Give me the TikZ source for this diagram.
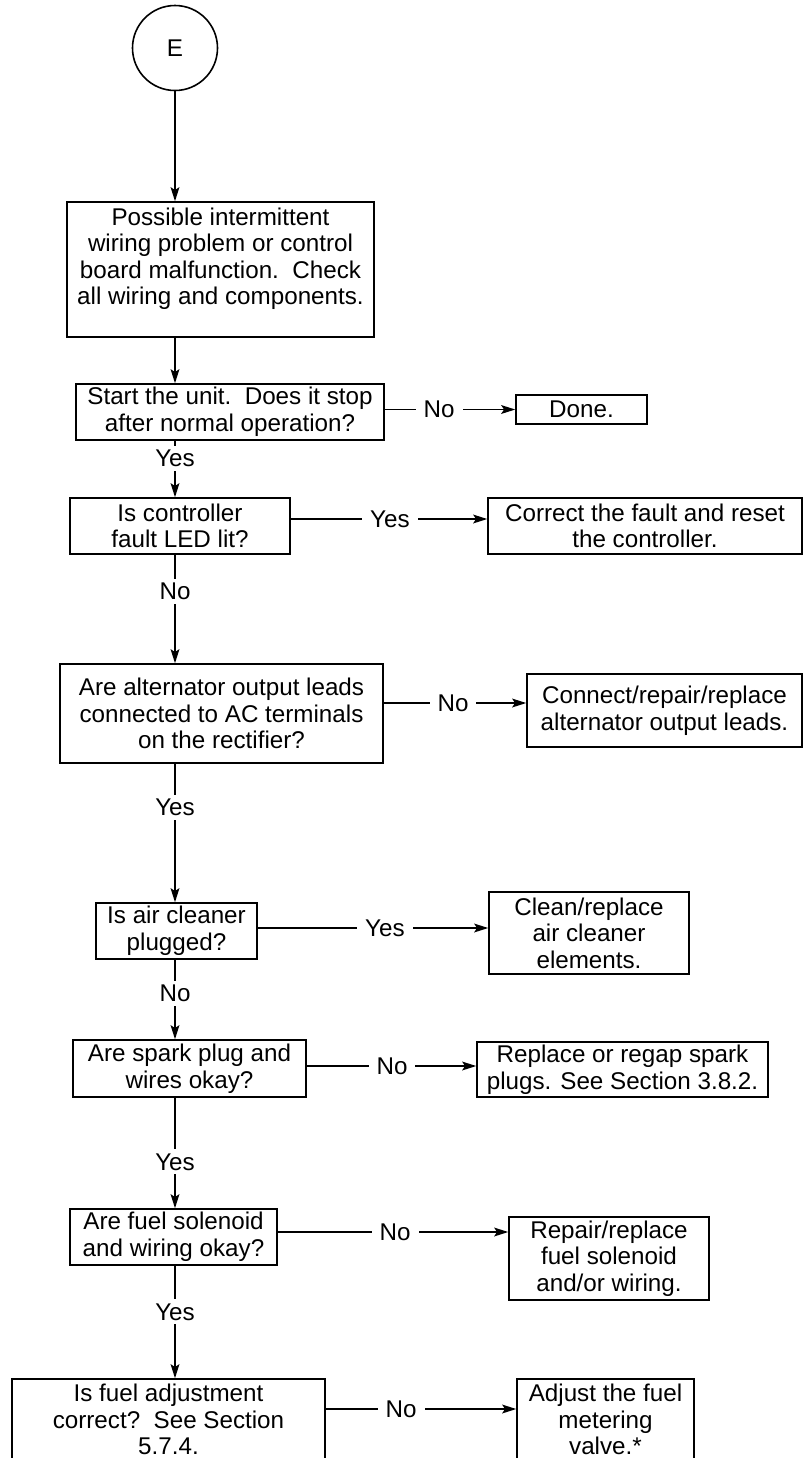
\documentclass[tikz,border=0pt]{standalone}
\usepackage{fontspec}
\setmainfont{Liberation Sans}
\usetikzlibrary{arrows.meta}
\newcommand\boxnode[6]{\node[box, minimum width={(#3-#2)*0.5pt}, minimum height={(#5-#4)*0.5pt}] (#1) at ({(#2+#3)/2},{(#4+#5)/2}) {#6};}
\tikzset{
  every node/.style={font=\fontsize{12.1}{13.3}\selectfont},
  box/.style={draw, rectangle, align=center, inner sep=0pt, line width=0.8pt},
  startc/.style={draw, circle, minimum size=42.5pt, inner sep=0pt, line width=0.8pt},
  arr/.style={line width=0.7pt, -{Stealth[length=7pt,width=4.4pt,inset=1.4pt]}},
  lbl/.style={fill=white, inner xsep=4pt, inner ysep=2pt}
}
\begin{document}
\begin{tikzpicture}[x=0.5pt,y=-0.5pt]
\useasboundingbox (0,0) rectangle (803,1458);
\clip (0,0) rectangle (803,1458);
\fill[white] (0,0) rectangle (803,1458);

\node[startc] (e) at (175,48) {E};
\boxnode{b1}{67}{374}{202}{337}{Possible intermittent\\wiring problem or control\\board malfunction.\ \ Check\\all wiring and components.\\ \mbox{}}
\boxnode{b2}{76}{384}{384}{440}{Start the unit.\ \ Does it stop\\after normal operation?}
\boxnode{done}{516}{647}{395}{424}{Done.}
\boxnode{b3}{70}{290}{498}{554}{Is controller\\fault LED lit?}
\boxnode{correct}{488}{802}{498}{554}{Correct the fault and reset\\the controller.}
\boxnode{b4}{60}{383}{664}{763}{Are alternator output leads\\connected to AC terminals\\on the rectifier?}
\boxnode{connect}{527}{802}{674}{747}{Connect/repair/replace\\alternator output leads.}
\boxnode{b5}{96}{257}{903}{959}{Is air cleaner\\plugged?}
\boxnode{clean}{489}{689}{892}{974}{Clean/replace\\air cleaner\\elements.}
\boxnode{spark}{73}{306}{1040}{1097}{Are spark plug and\\wires okay?}
\boxnode{replace}{477}{768}{1042}{1097}{Replace or regap spark\\plugs. See Section 3.8.2.}
\boxnode{fuelsol}{70}{277}{1209}{1265}{Are fuel solenoid\\and wiring okay?}
\boxnode{repair}{509}{709}{1217}{1300}{Repair/replace\\fuel solenoid\\and/or wiring.}
\boxnode{fueladj}{12}{325}{1379}{1460}{Is fuel adjustment\\correct?\ \ See Section\\5.7.4.}
\boxnode{adjust}{517}{694}{1379}{1460}{Adjust the fuel\\metering\\valve.*}

% main spine
\draw[arr] (e.south) -- (e.south |- b1.north);
\draw[arr] (b1.south -| e) -- (b2.north -| e);
\draw[arr] (b2.south -| e) -- (b3.north -| e) node[lbl,pos=0.31] {Yes};
\draw[arr] (b3.south -| e) -- (b4.north -| e) node[lbl,pos=0.336] {No};
\draw[arr] (b4.south -| e) -- (b5.north -| e) node[lbl,pos=0.314] {Yes};
\draw[arr] (b5.south -| e) -- (spark.north -| e) node[lbl,pos=0.42] {No};
\draw[arr] (spark.south -| e) -- (fuelsol.north -| e) node[lbl,pos=0.58] {Yes};
\draw[arr] (fuelsol.south -| e) -- (fueladj.north -| e) node[lbl,pos=0.41] {Yes};

% side branches
\draw[arr] (b2.east |- done.west) -- (done.west) node[lbl,pos=0.417] {No};
\draw[arr] ([yshift=3.5pt]b3.east) -- ([yshift=3.5pt]b3.east -| correct.west) node[lbl,pos=0.505] {Yes};
\draw[arr] ([yshift=5.25pt]b4.east) -- ([yshift=5.25pt]b4.east -| connect.west) node[lbl,pos=0.486] {No};
\draw[arr] ([yshift=1.5pt]b5.east) -- ([yshift=1.5pt]b5.east -| clean.west) node[lbl,pos=0.552] {Yes};
\draw[arr] ([yshift=1.25pt]spark.east) -- ([yshift=1.25pt]spark.east -| replace.west) node[lbl,pos=0.503] {No};
\draw[arr] ([yshift=2.5pt]fuelsol.east) -- ([yshift=2.5pt]fuelsol.east -| repair.west) node[lbl,pos=0.509] {No};
\draw[arr] ([yshift=5.25pt]fueladj.east) -- ([yshift=5.25pt]fueladj.east -| adjust.west) node[lbl,pos=0.396] {No};
\end{tikzpicture}
\end{document}
